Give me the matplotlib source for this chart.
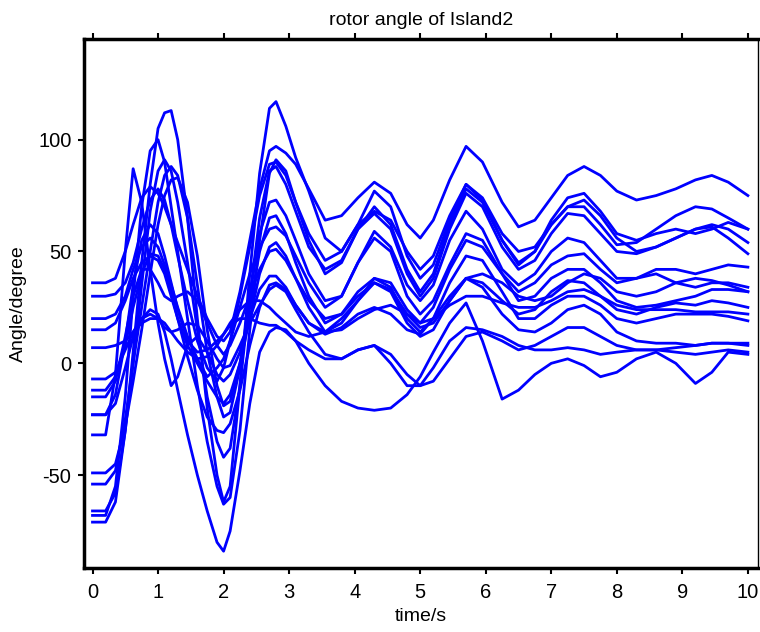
import matplotlib
matplotlib.use("Agg")
import matplotlib.pyplot as plt

plt.rcParams['font.family'] = ['Liberation Sans', 'DejaVu Sans']
plt.rcParams['axes.unicode_minus'] = False

# shared time grid (s)
t = [0, 0.2, 0.35, 0.5, 0.62, 0.75, 0.88, 1.0, 1.1, 1.2,
     1.3, 1.45, 1.6, 1.75, 1.9, 2.0, 2.1, 2.25, 2.4, 2.55,
     2.7, 2.8, 2.95, 3.1, 3.3, 3.55, 3.8, 4.05, 4.3, 4.55,
     4.8, 5.0, 5.2, 5.45, 5.7, 5.95, 6.25, 6.5, 6.75, 7.0,
     7.25, 7.5, 7.75, 8.0, 8.3, 8.6, 8.9, 9.2, 9.45, 9.7, 10.0]

# rotor angle of each generator (degree)
g01 = [36, 36, 38, 50, 62, 74, 79, 76, 70, 62,
       54, 42, 30, 20, 12, 10, 14, 32, 55, 78,
       95, 97, 94, 89, 78, 64, 66, 74, 81, 76,
       62, 56, 64, 82, 97, 90, 72, 61, 64, 74,
       84, 88, 84, 77, 73, 75, 78, 82, 84, 81, 75]
g02 = [-71, -71, -62, -30, 5, 45, 80, 105, 112, 113,
       100, 65, 20, -20, -50, -62, -55, -10, 40, 85,
       114, 117, 106, 92, 77, 56, 50, 62, 77, 70,
       48, 38, 44, 64, 80, 73, 55, 45, 50, 62,
       70, 70, 62, 53, 54, 60, 66, 70, 69, 65, 60]
g03 = [-68, -68, -55, -15, 30, 70, 95, 100, 90, 70,
       50, 20, -10, -35, -55, -63, -60, -30, 15, 55,
       85, 91, 86, 72, 55, 40, 45, 60, 70, 62,
       42, 32, 40, 62, 78, 72, 55, 44, 50, 64,
       74, 76, 68, 58, 55, 58, 60, 58, 60, 63, 60]
g04 = [-66, -66, -58, -30, 0, 35, 68, 86, 91, 86,
       72, 45, 15, -15, -35, -42, -38, -10, 30, 65,
       86, 88, 80, 68, 52, 42, 46, 60, 67, 60,
       40, 30, 38, 60, 76, 70, 52, 42, 46, 58,
       67, 66, 58, 50, 49, 52, 56, 60, 62, 60, 54]
g05 = [-54, -54, -48, -25, 0, 25, 50, 72, 84, 88,
       84, 65, 35, 5, -15, -24, -22, -2, 30, 58,
       72, 73, 66, 55, 40, 28, 30, 45, 59, 52,
       35, 28, 35, 55, 68, 60, 42, 35, 40, 50,
       56, 54, 46, 38, 38, 42, 42, 40, 42, 44, 43]
g06 = [-49, -49, -45, -28, -8, 15, 40, 62, 75, 82,
       83, 72, 48, 15, -10, -19, -17, 0, 25, 50,
       65, 66, 58, 45, 30, 18, 22, 32, 38, 36,
       24, 18, 25, 42, 55, 52, 40, 32, 36, 44,
       48, 49, 42, 36, 38, 40, 36, 34, 36, 36, 34]
g07 = [-32, -32, -5, 50, 87, 72, 42, 18, 2, -10,
       -6, 8, 12, 5, -5, -8, -5, 5, 20, 33,
       39, 39, 34, 26, 18, 13, 16, 22, 25, 22,
       15, 13, 20, 30, 38, 36, 28, 22, 24, 32,
       37, 36, 30, 24, 22, 25, 27, 26, 28, 27, 25]
g08 = [30, 30, 31, 36, 45, 60, 73, 78, 73, 62,
       48, 28, 10, -2, -8, -2, 10, 30, 52, 75,
       89, 90, 84, 72, 58, 46, 50, 62, 68, 64,
       50, 42, 48, 66, 80, 74, 58, 50, 52, 62,
       70, 73, 66, 56, 50, 52, 56, 60, 61, 56, 49]
g09 = [20, 20, 22, 30, 42, 52, 56, 52, 44, 35,
       25, 12, 2, -6, -2, 2, 10, 25, 40, 52,
       60, 61, 57, 48, 36, 25, 30, 45, 56, 50,
       30, 22, 28, 44, 58, 55, 40, 28, 30, 38,
       42, 42, 36, 28, 25, 26, 28, 30, 33, 33, 32]
g10 = [15, 15, 18, 28, 38, 45, 48, 46, 40, 30,
       20, 8, 0, -8, -15, -18, -14, 0, 20, 40,
       52, 54, 48, 38, 25, 14, 18, 28, 38, 34,
       20, 14, 20, 36, 48, 46, 32, 20, 20, 26,
       30, 30, 26, 20, 18, 20, 22, 22, 22, 21, 19]
g11 = [7, 7, 8, 10, 14, 18, 20, 20, 18, 14,
       10, 5, 2, 3, 8, 13, 17, 20, 20, 18,
       17, 17, 14, 10, 6, 2, 2, 6, 8, 4,
       -5, -10, -8, 2, 12, 14, 10, 6, 8, 12,
       16, 16, 12, 8, 6, 6, 7, 8, 9, 9, 9]
g12 = [-23, -23, -18, -2, 12, 20, 24, 22, 14, 2,
       -12, -32, -50, -66, -80, -84, -75, -48, -18, 5,
       14, 16, 15, 10, 0, -10, -17, -20, -21, -20,
       -14, -6, 5, 18, 27, 10, -16, -12, -5, 0,
       2, -1, -6, -4, 2, 5, 0, -9, -4, 5, 4]
g13 = [-7, -7, -4, 6, 14, 20, 22, 20, 16, 14,
       15, 18, 17, 10, 2, -2, -1, 8, 18, 26,
       33, 35, 32, 24, 14, 4, 2, 6, 8, 0,
       -10, -10, -2, 10, 16, 15, 12, 8, 6, 6,
       7, 6, 4, 5, 6, 6, 5, 4, 5, 6, 5]
g14 = [-12, -12, -6, 8, 25, 40, 49, 48, 42, 32,
       20, 3, -12, -24, -30, -31, -27, -12, 8, 25,
       35, 36, 33, 26, 18, 14, 15, 20, 24, 26,
       22, 18, 20, 26, 30, 30, 27, 25, 25, 28,
       32, 33, 30, 26, 24, 24, 24, 23, 23, 23, 22]
g15 = [-15, -15, -8, 12, 30, 42, 42, 36, 30, 28,
       30, 32, 28, 18, 8, 4, 8, 18, 30, 42,
       50, 51, 46, 38, 28, 20, 22, 30, 36, 33,
       22, 16, 18, 28, 38, 40, 36, 30, 28, 30,
       36, 40, 38, 32, 30, 32, 36, 38, 37, 35, 32]
g16 = [-23, -23, -14, 10, 35, 55, 62, 58, 48, 36,
       24, 10, 5, 6, 10, 13, 18, 24, 28, 28,
       25, 22, 18, 14, 12, 14, 20, 28, 36, 32,
       18, 12, 15, 28, 38, 34, 22, 15, 14, 18,
       24, 26, 22, 14, 10, 9, 9, 8, 9, 9, 8]

gens = [g01, g02, g03, g04, g05, g06, g07, g08,
        g09, g10, g11, g12, g13, g14, g15, g16]

fig = plt.figure(figsize=(7.6, 6.32), dpi=100)
ax = fig.add_axes([0.1105, 0.1013, 0.8865, 0.837])

for g in gens:
    ax.plot(t, g, color='#0000ff', lw=2.0, solid_joinstyle='round')

ax.set_xlim(-0.13, 10.15)
ax.set_ylim(-91.5, 145)
ax.set_xticks(range(0, 11))
ax.set_yticks([-50, 0, 50, 100])

for s in ['left', 'bottom', 'top']:
    ax.spines[s].set_linewidth(2.5)
ax.spines['right'].set_linewidth(1.0)

ax.tick_params(axis='x', which='both', direction='out', top=True, bottom=True,
               length=4, width=1.5, labelsize=14.5, pad=7)
ax.tick_params(axis='y', which='both', direction='out', left=True, right=False,
               length=4, width=1.5, labelsize=14.5, pad=5)

ax.set_title('rotor angle of Island2', fontsize=14, pad=10)
ax.set_xlabel('time/s', fontsize=14, labelpad=4)
ax.set_ylabel('Angle/degree', fontsize=14, labelpad=8)

fig.savefig('out.png', dpi=100)
